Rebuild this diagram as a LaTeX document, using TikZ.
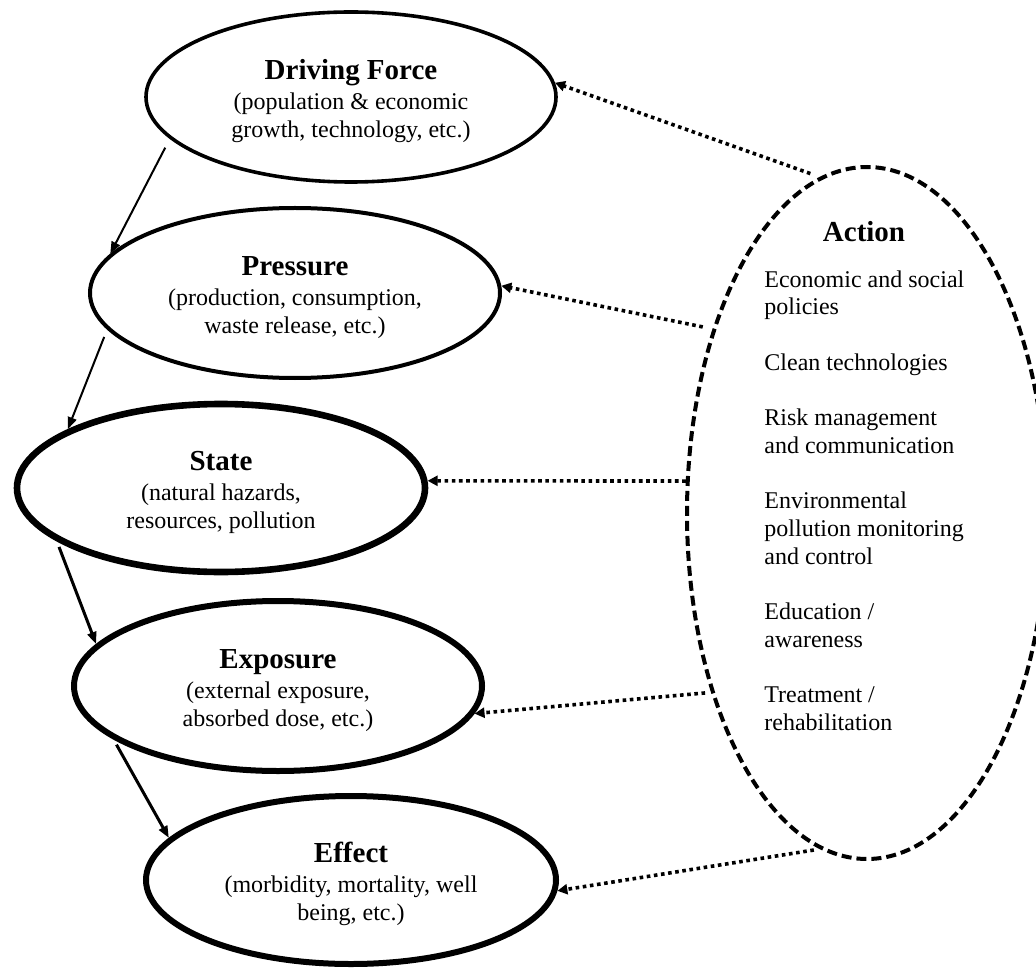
\documentclass[tikz,border=0pt]{standalone}
\usepackage{fontspec}
\setmainfont{Liberation Serif}
\usetikzlibrary{shapes.geometric,arrows.meta}
\tikzset{
  stage/.style={ellipse,draw,inner sep=0pt,align=center,minimum width=205pt,minimum height=85pt,font=\fontsize{12}{14}\selectfont},
  flow/.style={-{Triangle[length=6pt,width=4.5pt]},line width=1pt},
  act/.style={-{Triangle[length=5pt,width=5pt]},line width=1.8pt,dash pattern=on 1.8pt off 1.8pt},
}
\newcommand{\stagetitle}[1]{{\fontsize{14.5}{16}\selectfont\bfseries\rule{0pt}{14pt}#1}\\[1pt]}

\begin{document}
\begin{tikzpicture}[x=0.5pt,y=-0.5pt]
  \useasboundingbox (0,0) rectangle (1036,972);
  % stages of the chain
  \node[stage,line width=1.8pt] (driving) at (351,97)
    {\stagetitle{Driving Force}(population \& economic\\growth, technology, etc.)};
  \node[stage,line width=2pt] (pressure) at (295,293)
    {\stagetitle{Pressure}(production, consumption,\\waste release, etc.)};
  \node[stage,line width=3.3pt,minimum width=204pt,minimum height=84pt] (state) at (221,488)
    {\stagetitle{State}(natural hazards,\\resources, pollution};
  \node[stage,line width=3pt,minimum width=204pt] (exposure) at (278,686)
    {\stagetitle{Exposure}(external exposure,\\absorbed dose, etc.)};
  \node[stage,line width=3pt,minimum height=84pt] (effect) at (351,880)
    {\stagetitle{Effect}(morbidity, mortality, well\\being, etc.)};
  % action ellipse
  \node[ellipse,draw,line width=2pt,dash pattern=on 5pt off 2.5pt,
        minimum width=180pt,minimum height=346pt] (action) at (867,513) {};
  \node[font=\fontsize{14.5}{16}\selectfont\bfseries,anchor=base] (acttitle) at (864,242) {Action};
  \node[align=left,anchor=north west,inner sep=0pt,font=\fontsize{12}{13.85}\selectfont] (actlist) at (764,270)
    {Economic and social\\policies\\[13.85pt]
     Clean technologies\\[13.85pt]
     Risk management\\and communication\\[13.85pt]
     Environmental\\pollution monitoring\\and control\\[13.85pt]
     Education /\\awareness\\[13.85pt]
     Treatment /\\rehabilitation};
  % chain arrows
  \draw[flow,shorten <=5pt] (driving.193) -- (pressure.168);
  \draw[flow,shorten <=4pt] (pressure.191) -- (state.159);
  \draw[flow,line width=1.5pt,shorten <=3pt] (state.198) -- (exposure.167);
  \draw[flow,line width=1.5pt,shorten <=3pt] (exposure.198) -- (effect.167);
  % action arrows
  \draw[act,shorten <=5pt] (action.98) -- (driving.4);
  \draw[act,shorten <=5pt] (action.130) -- (pressure.2);
  \draw[act] (action.170) -- (state.2);
  \draw[act,shorten <=3pt] (action.229) -- (exposure.352);
  \draw[act,shorten <=3pt] (action.262) -- (effect.357);
\end{tikzpicture}
\end{document}
